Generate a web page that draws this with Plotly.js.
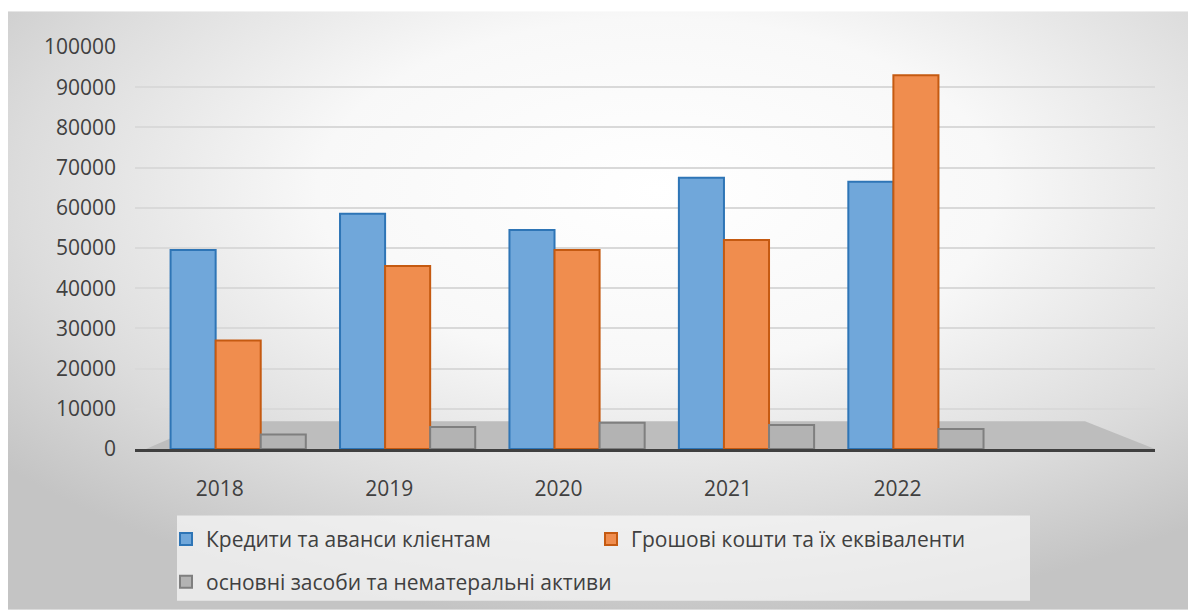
<!DOCTYPE html>
<html>
<head>
<meta charset="utf-8">
<script src="https://cdn.plot.ly/plotly-3.0.1.min.js"></script>
<style>html,body{margin:0;padding:0;background:#fff;}#chart{width:1188px;height:614px;}</style>
</head>
<body>
<div id="chart"></div>
<script>
const years = ['2018', '2019', '2020', '2021', '2022'];
const seriesNames = ['Кредити та аванси клієнтам', 'Грошові кошти та їх еквіваленти', 'основні засоби та нематеральні активи'];
const loans = [49500, 58500, 54500, 67500, 66500];
const cash = [27000, 45500, 49500, 52000, 93000];
const fixedAssets = [3600, 5500, 6500, 6000, 5000];
const yTicks = [0, 10000, 20000, 30000, 40000, 50000, 60000, 70000, 80000, 90000, 100000];

const FONT = 'Open Sans, Liberation Sans, sans-serif';
const TXT = '#404040';
const FS = 21;

function bar(name, y, fill, line, legend, offset) {
  return {
    type: 'bar', name: name, x: years, y: y, legend: legend,
    width: 0.266, offset: offset,
    marker: {color: fill, line: {color: line, width: 2}},
    hoverinfo: 'x+y+name'
  };
}

const traces = [
  bar(seriesNames[0], loans, '#70a7da', '#2e75b6', 'legend', -0.29),
  bar(seriesNames[1], cash, '#f08d4e', '#c55a11', 'legend', -0.024),
  bar(seriesNames[2], fixedAssets, '#b3b3b3', '#7f7f7f', 'legend2', 0.242)
];

const bgSvg = '<svg xmlns="http://www.w3.org/2000/svg" width="1180" height="603" viewBox="0 0 1180 603" preserveAspectRatio="none">' +
  '<defs><radialGradient id="g" cx="0.55" cy="0.3" r="0.72">' +
  '<stop offset="0" stop-color="#ffffff"/><stop offset="0.4" stop-color="#f8f8f8"/>' +
  '<stop offset="0.75" stop-color="#dcdcdc"/><stop offset="1" stop-color="#c4c4c4"/>' +
  '</radialGradient></defs><rect width="1180" height="603" fill="url(#g)"/></svg>';
const bgSrc = 'data:image/svg+xml;charset=utf-8,' + encodeURIComponent(bgSvg);

// pixel -> paper helpers (plot area: x 135..1155, y 47..452)
const PX0 = 135, PW = 1020, PY0 = 452, PH = 405;
const px = v => (v - PX0) / PW;
const py = v => (PY0 - v) / PH;

const layout = {
  width: 1188, height: 614,
  margin: {l: 135, r: 33, t: 47, b: 162},
  paper_bgcolor: '#ffffff',
  plot_bgcolor: 'rgba(0,0,0,0)',
  font: {family: FONT, color: TXT, size: FS},
  barmode: 'group', bargap: 0.2, bargroupgap: 0,
  xaxis: {
    type: 'category', range: [-0.5, 5.52],
    showline: true, linecolor: '#404040', linewidth: 3,
    showgrid: false, ticks: '', ticklabelstandoff: 19,
    tickfont: {family: FONT, size: FS, color: TXT}, fixedrange: true
  },
  yaxis: {
    range: [0, 100000], tickvals: yTicks, ticktext: yTicks.map(String),
    showgrid: true, gridcolor: '#d9d9d9', gridwidth: 2,
    zeroline: false, showline: false, ticks: '', ticklabelstandoff: 18,
    tickfont: {family: FONT, size: FS, color: TXT}, fixedrange: true
  },
  images: [{
    source: bgSrc, xref: 'paper', yref: 'paper',
    x: px(8), y: py(11), sizex: 1180 / PW, sizey: 603 / PH,
    xanchor: 'left', yanchor: 'top', sizing: 'stretch', layer: 'below'
  }],
  shapes: [
    {type: 'path', xref: 'paper', yref: 'paper', layer: 'below',
     path: 'M ' + px(146) + ' ' + py(452) + ' L ' + px(210) + ' ' + py(424) + ' L ' + px(1085) + ' ' + py(424) + ' L ' + px(1155) + ' ' + py(452) + ' Z',
     fillcolor: '#bdbdbd', line: {width: 0}},
    {type: 'rect', xref: 'paper', yref: 'paper', layer: 'below',
     x0: px(177), x1: px(1030), y0: py(605), y1: py(519),
     fillcolor: 'rgba(245,245,245,0.75)', line: {width: 0}}
  ],
  legend: {
    orientation: 'h', x: px(166), xanchor: 'left', y: py(543), yanchor: 'middle',
    entrywidth: 380, entrywidthmode: 'pixels', bgcolor: 'rgba(0,0,0,0)',
    font: {family: FONT, size: FS, color: TXT}, traceorder: 'normal'
  },
  legend2: {
    orientation: 'h', x: px(166), xanchor: 'left', y: py(586), yanchor: 'middle',
    bgcolor: 'rgba(0,0,0,0)',
    font: {family: FONT, size: FS, color: TXT}
  },
  showlegend: true
};

Plotly.newPlot('chart', traces, layout, {displayModeBar: false, staticPlot: true});
</script>
</body>
</html>
